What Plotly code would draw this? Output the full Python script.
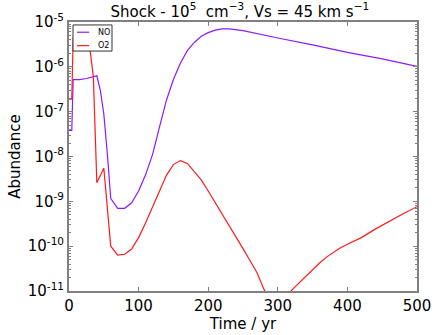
import plotly.graph_objects as go

# Time (yr) and abundances
time_no = [0, 4, 6, 15, 25, 35, 40, 45, 50, 55, 60, 70, 80, 90, 100, 110, 120,
           130, 140, 150, 160, 170, 180, 190, 200, 210, 220, 230, 250, 300,
           350, 400, 450, 500]
no_abund = [3.8e-8, 3.8e-8, 5.2e-7, 5.2e-7, 5.5e-7, 6.1e-7, 6.3e-7, 3.0e-7,
            9.0e-8, 1.2e-8, 1.15e-9, 7.0e-10, 7.0e-10, 9.3e-10, 1.7e-9,
            3.9e-9, 1.1e-8, 4.5e-8, 1.8e-7, 5.2e-7, 1.2e-6, 2.3e-6, 3.5e-6,
            4.8e-6, 5.8e-6, 6.6e-6, 7.0e-6, 7.0e-6, 6.4e-6, 4.4e-6, 3.1e-6,
            2.1e-6, 1.5e-6, 1.02e-6]

time_o2 = [0, 4, 6, 15, 25, 30, 35, 40, 50, 60, 70, 80, 90, 100, 110, 120,
           130, 140, 150, 160, 170, 180, 190, 200, 210, 220, 230, 240, 250,
           260, 270, 280, 290, 300, 310, 320, 330, 340, 350, 360, 370, 380,
           390, 400, 420, 440, 460, 480, 500]
o2_abund = [1.9e-7, 1.9e-7, 4.5e-6, 4.5e-6, 4.0e-6, 2.5e-6, 6.0e-7, 2.6e-9,
            5.5e-9, 1.0e-10, 6.3e-11, 6.6e-11, 8.6e-11, 1.55e-10, 3.3e-10,
            7.3e-10, 1.6e-9, 3.8e-9, 6.6e-9, 8.1e-9, 7.0e-9, 4.7e-9, 3.0e-9,
            1.7e-9, 9.5e-10, 5.3e-10, 2.9e-10, 1.6e-10, 8.8e-11, 4.8e-11,
            2.6e-11, 1.1e-11, 6.0e-12, 4.5e-12, 6.5e-12, 1.05e-11, 1.5e-11,
            2.1e-11, 3.0e-11, 4.2e-11, 5.7e-11, 7.4e-11, 9.2e-11, 1.1e-10,
            1.55e-10, 2.4e-10, 3.6e-10, 5.3e-10, 7.6e-10]

series_names = ["NO", "O2"]
series_colors = ["#8c1aff", "#ff1a1a"]

x_ticks = [0, 100, 200, 300, 400, 500]
y_exps = [-11, -10, -9, -8, -7, -6, -5]
y_ticks = [10.0 ** e for e in y_exps]
y_labels = [f"10<sup>{e}</sup>" for e in y_exps]
y_minor = [m * 10.0 ** e for e in y_exps[:-1] for m in range(2, 10)]

FONT = "DejaVu Sans"
FRAME = "#808080"

fig = go.Figure()
fig.add_trace(go.Scatter(x=time_no, y=no_abund, mode="lines", name="NO",
                         line=dict(color=series_colors[0], width=1.2)))
fig.add_trace(go.Scatter(x=time_o2, y=o2_abund, mode="lines", name="O2",
                         line=dict(color=series_colors[1], width=1.2)))

fig.update_layout(
    width=436, height=335,
    margin=dict(l=69, r=19, t=22, b=44),
    paper_bgcolor="white", plot_bgcolor="white",
    font=dict(family=FONT, size=15, color="black"),
    title=dict(text="Shock - 10<sup>5</sup>  cm<sup>\u22123</sup>, Vs = 45 km s<sup>\u22121</sup>",
               x=0.55, xanchor="center", y=0.982, yanchor="top",
               font=dict(family=FONT, size=15)),
    showlegend=False,
)

# small matplotlib-like legend box in the top-left corner
x0, x1, y0, y1 = 0.0115, 0.1236, 0.892, 0.989
fig.add_shape(type="rect", xref="paper", yref="paper", x0=x0, x1=x1, y0=y0, y1=y1,
              fillcolor="white", line=dict(color="#333333", width=1), layer="above")
for i, (name, color) in enumerate(zip(series_names, series_colors)):
    yy = 0.962 - i * 0.05
    fig.add_shape(type="line", xref="paper", yref="paper", x0=0.023, x1=0.058,
                  y0=yy, y1=yy, line=dict(color=color, width=1.2), layer="above")
    fig.add_annotation(text=name, xref="paper", yref="paper", x=0.079, y=yy,
                       xanchor="left", yanchor="middle", showarrow=False,
                       font=dict(family=FONT, size=8, color="black"))

fig.update_xaxes(
    range=[0, 500], tickvals=x_ticks, ticks="inside", ticklen=4,
    tickcolor=FRAME, showline=True, linecolor=FRAME, linewidth=2,
    mirror="ticks", showgrid=False, zeroline=False, automargin=False,
    title=dict(text="Time / yr", font=dict(size=15), standoff=2),
    tickfont=dict(size=15),
)
fig.update_yaxes(
    type="log", range=[-11, -5], tickvals=y_ticks, ticktext=y_labels,
    ticks="inside", ticklen=4, tickcolor=FRAME, showline=True,
    linecolor=FRAME, linewidth=2, mirror="ticks", showgrid=False,
    zeroline=False, automargin=False,
    minor=dict(ticks="inside", ticklen=2, tickcolor=FRAME, tickvals=y_minor,
               showgrid=False),
    title=dict(text="Abundance", font=dict(size=15), standoff=4),
    tickfont=dict(size=15),
)

# drop the page's default body margin so the figure sits at the window corner
fig.write_html("out.html", config={"displayModeBar": False},
               post_script="document.body.style.margin='0';")
